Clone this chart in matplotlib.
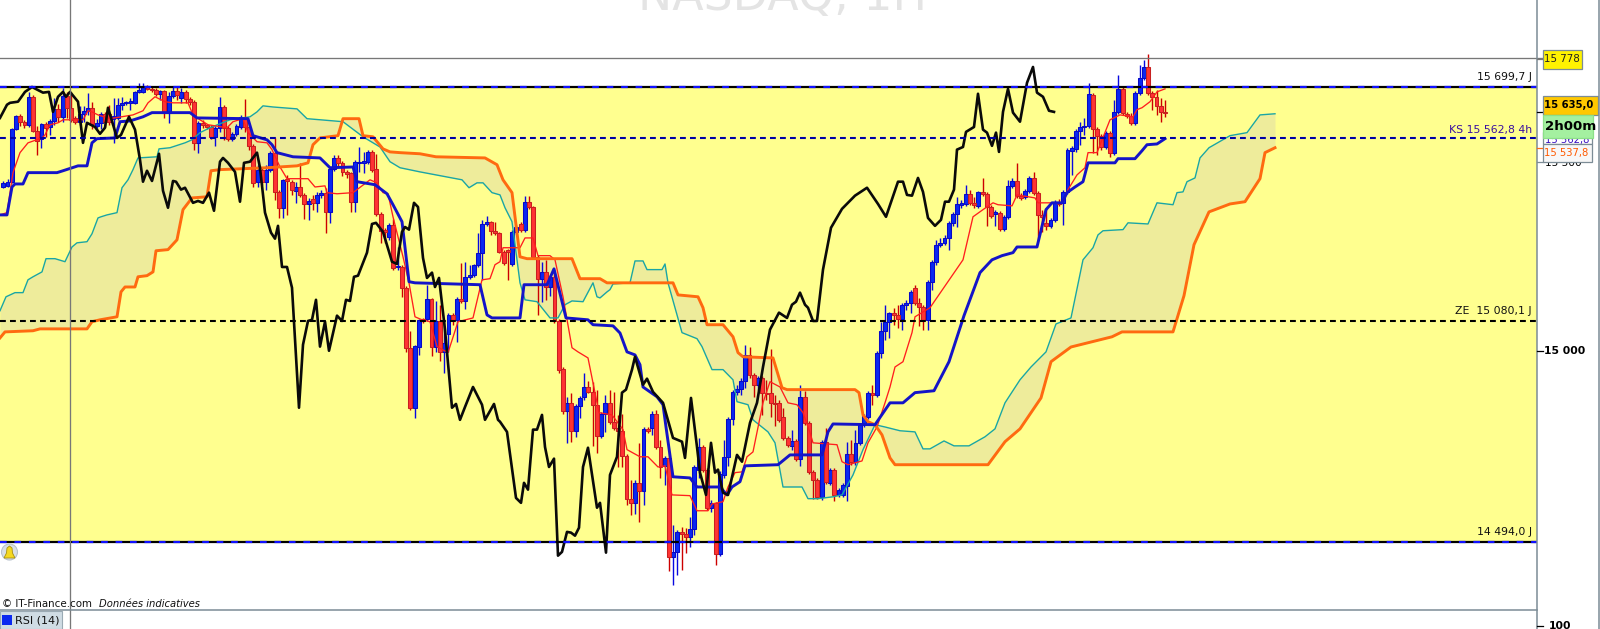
import numpy as np
import matplotlib
matplotlib.use("Agg")
import matplotlib.pyplot as plt
from matplotlib.patches import Rectangle, Circle, Polygon

plt.rcParams['font.family'] = ['DejaVu Sans']

TITLE = "NASDAQ, 1H"
RESISTANCE, KS_LEVEL, ZE_LEVEL, SUPPORT, LAST_HIGH = 15699.7, 15562.8, 15080.1, 14494.0, 15775.0

candle_side = ("BBBBRRBRRB" "RBBRBRRRBB" "BRBBRRBBBB" "BBBBRRRBRB" "BRBRRRBRRR" "BBRRBBBRRR" "BRBBRRBRRB"
               "RRBRBBRBBR" "RRRBBBBRRR" "RBRBRRRBBR" "BRBRBBRBRB" "BBBBBRRRRR" "BBRBRRRBRB" "RRRBRBBBRR"
               "RBBRRRRRRB" "RBRBRRBRBB" "RRBBBRRBRB" "BBBBBBRRBR" "RRRRRRBRBR" "RRRBRBRBBB" "RBBBBRBBBB"
               "RRBBBRRRBB" "BBBBBBBBRR" "BRRRBRBBBR" "RBBRRRRBBR" "BBBBBBBRRR" "BRBBRRRBBB" "RRRRR")

body_top = [
15445,15448,15588,15623,15623,15607,15673,15673,15583,15601,
15601,15609,15641,15641,15676,15676,15644,15617,15628,15636,
15644,15644,15604,15628,15628,15628,15623,15652,15657,15660,
15662,15686,15692,15700,15700,15694,15692,15689,15689,15676,
15689,15689,15686,15686,15668,15660,15604,15604,15599,15593,
15591,15646,15646,15591,15575,15596,15620,15620,15593,15543,
15480,15480,15480,15525,15525,15421,15453,15456,15448,15434,
15434,15413,15397,15403,15413,15419,15419,15482,15511,15511,
15498,15474,15471,15501,15501,15503,15527,15527,15482,15363,
15321,15334,15334,15225,15222,15167,15008,15013,15082,15085,
15138,15138,15079,15079,15021,15095,15095,15138,15138,15196,
15201,15228,15260,15336,15342,15342,15318,15313,15262,15268,
15315,15328,15336,15395,15395,15381,15249,15209,15209,15196,
15196,15079,14952,14862,14862,14854,14875,14904,14904,14891,
14857,14833,14862,14862,14812,14796,14788,14722,14608,14650,
14650,14793,14793,14833,14833,14745,14716,14716,14467,14520,
14520,14515,14528,14692,14745,14745,14685,14597,14597,14674,
14719,14820,14891,14899,14920,14989,14989,14936,14928,14928,
14889,14889,14862,14862,14825,14769,14761,14761,14878,14878,
14809,14679,14658,14759,14759,14685,14685,14631,14645,14727,
14727,14756,14804,14828,14889,14889,14995,15053,15077,15101,
15101,15095,15122,15127,15156,15167,15127,15117,15183,15236,
15281,15286,15299,15339,15363,15389,15392,15416,15416,15392,
15421,15421,15416,15381,15368,15366,15355,15437,15450,15450,
15411,15424,15458,15458,15419,15360,15339,15347,15395,15395,
15421,15533,15538,15583,15593,15596,15681,15678,15588,15570,
15578,15578,15633,15694,15694,15628,15623,15684,15723,15752,
15752,15684,15673,15649,15633]

body_bottom = [
15434,15437,15448,15588,15607,15599,15599,15583,15556,15562,
15591,15593,15609,15620,15620,15644,15612,15607,15607,15628,
15636,15601,15596,15604,15607,15607,15615,15617,15652,15657,
15657,15657,15686,15686,15694,15692,15681,15681,15631,15631,
15676,15678,15670,15668,15660,15551,15551,15599,15593,15567,
15567,15591,15591,15562,15562,15575,15593,15593,15543,15445,
15448,15448,15448,15480,15421,15379,15379,15450,15427,15424,
15413,15389,15389,15392,15392,15413,15368,15368,15482,15498,
15474,15469,15395,15395,15498,15498,15501,15480,15363,15318,
15315,15302,15220,15222,15167,15008,14849,14849,15011,15079,
15085,15011,15011,14997,14997,15045,15082,15082,15132,15132,
15196,15201,15228,15260,15336,15318,15313,15262,15233,15262,
15230,15315,15321,15321,15381,15249,15191,15191,15169,15169,
15079,14950,14841,14841,14788,14788,14854,14878,14891,14857,
14775,14775,14833,14812,14796,14788,14722,14608,14597,14597,
14629,14629,14788,14796,14745,14692,14695,14454,14454,14467,
14515,14507,14507,14528,14685,14685,14584,14584,14462,14462,
14671,14719,14820,14891,14899,14920,14936,14910,14910,14889,
14886,14862,14859,14817,14769,14751,14748,14714,14714,14809,
14679,14658,14613,14613,14653,14650,14618,14618,14618,14642,
14706,14706,14756,14804,14825,14883,14883,14995,15053,15077,
15095,15085,15085,15122,15127,15127,15117,15082,15082,15183,
15236,15281,15286,15299,15339,15363,15387,15389,15392,15387,
15384,15416,15381,15358,15363,15323,15323,15355,15437,15411,
15405,15408,15424,15419,15360,15355,15331,15331,15347,15389,
15392,15421,15530,15535,15583,15593,15596,15588,15570,15541,
15541,15525,15525,15633,15631,15623,15604,15604,15684,15723,
15684,15673,15649,15633,15631]

wick_high = [
15450,15456,15591,15625,15628,15612,15686,15678,15596,15604,
15607,15615,15670,15654,15697,15686,15686,15623,15649,15649,
15684,15660,15615,15633,15633,15652,15670,15670,15673,15662,
15670,15689,15710,15710,15705,15700,15697,15692,15692,15686,
15699,15699,15697,15692,15673,15665,15609,15612,15601,15599,
15596,15673,15652,15596,15580,15601,15625,15668,15601,15548,
15493,15485,15493,15530,15564,15427,15456,15466,15453,15448,
15498,15419,15405,15413,15421,15427,15432,15487,15519,15519,
15503,15480,15474,15506,15541,15527,15533,15533,15522,15368,
15326,15339,15350,15275,15228,15172,15053,15016,15085,15087,
15175,15140,15132,15122,15079,15101,15101,15143,15233,15236,
15228,15230,15313,15347,15358,15344,15342,15315,15268,15270,
15321,15334,15342,15411,15411,15384,15254,15236,15241,15201,
15215,15085,14957,14878,14888,14860,14881,14942,14920,14918,
14897,14838,14883,14897,14891,14830,14833,14727,14658,14658,
14756,14798,14798,14841,14844,14764,14722,14732,14539,14526,
14534,14531,14560,14698,14769,14751,14690,14605,14600,14682,
14764,14825,14897,14910,14928,15016,15011,14942,14934,14934,
14923,15005,14883,14870,14849,14774,14791,14767,14910,14894,
14814,14685,14663,14764,14796,14690,14690,14637,14650,14759,
14764,14791,14809,14833,14894,14910,15000,15077,15122,15103,
15114,15122,15127,15135,15162,15175,15140,15122,15188,15241,
15294,15299,15307,15344,15368,15408,15400,15440,15427,15408,
15424,15458,15421,15387,15374,15371,15360,15453,15458,15498,
15419,15429,15464,15474,15424,15374,15379,15352,15400,15403,
15427,15538,15543,15588,15607,15617,15710,15684,15593,15575,
15583,15583,15665,15731,15699,15633,15631,15689,15758,15771,
15787,15689,15692,15670,15665]

wick_low = [
15432,15434,15445,15585,15596,15591,15593,15580,15519,15538,
15567,15572,15599,15607,15607,15617,15607,15601,15599,15607,
15625,15588,15591,15588,15593,15599,15551,15612,15639,15652,
15639,15654,15684,15684,15692,15686,15676,15665,15617,15604,
15670,15665,15657,15657,15652,15533,15525,15591,15588,15562,
15543,15580,15559,15556,15556,15569,15588,15580,15533,15434,
15434,15440,15427,15474,15400,15352,15352,15360,15413,15392,
15408,15350,15347,15374,15368,15405,15312,15339,15477,15487,
15464,15458,15368,15368,15474,15471,15495,15474,15358,15286,
15286,15294,15215,15214,15143,14997,14844,14822,14989,15074,
15079,14987,14997,14973,14941,14997,15069,15024,15127,15111,
15191,15196,15222,15188,15331,15307,15307,15260,15228,15188,
15225,15310,15315,15315,15376,15244,15095,15130,15135,15146,
15074,14942,14833,14756,14759,14772,14822,14870,14889,14748,
14730,14769,14785,14806,14791,14692,14692,14592,14565,14568,
14547,14592,14783,14777,14740,14663,14645,14417,14380,14406,
14420,14465,14480,14512,14663,14679,14579,14573,14433,14457,
14663,14695,14804,14883,14883,14902,14928,14878,14897,14830,
14870,14825,14801,14812,14764,14745,14738,14708,14695,14804,
14674,14608,14608,14605,14648,14645,14602,14613,14613,14602,
14698,14698,14751,14799,14820,14857,14878,14981,15029,15034,
15069,15061,15056,15109,15101,15122,15066,15056,15056,15162,
15228,15275,15281,15268,15331,15328,15379,15384,15387,15379,
15379,15411,15331,15352,15331,15318,15318,15350,15432,15405,
15400,15403,15419,15413,15294,15315,15321,15326,15342,15384,
15334,15416,15466,15527,15546,15572,15591,15525,15519,15533,
15535,15514,15519,15628,15625,15617,15599,15599,15678,15718,
15678,15639,15625,15607,15620]

# time axis positions of the indicator readings
tenkan_t = [0,7,13,20,28,42,45,50,58,63,83,88,92,98,110,133,143,148,155,165,173,188,193,200,208,227,233,243,248,257,267,272,280,287,308,315,325,327,337,353,370,377,383,388,393,403,409,415,422,430,437,448,458,473,482,490,495,500,503,520,525,533,538,550,555,563,572,578,588,593,599,612,623,627,640,648,658,665,672,690,697,708,712,723,728,735,742,747,753,763,770,780,788,797,803,810,813,837,842,848,862,868,877,885,890,895,903,912,915,930,963,973,983,993,998,1012,1017,1035,1038,1062,1068,1077,1085,1088,1097,1110,1120,1133,1137,1142,1150,1157,1165]
tenkan = [15360,15366,15472,15525,15551,15564,15572,15599,15604,15612,15612,15636,15633,15625,15615,15625,15636,15657,15673,15660,15657,15657,15625,15612,15599,15591,15607,15615,15578,15554,15551,15533,15487,15456,15456,15434,15437,15419,15416,15419,15453,15445,15419,15416,15355,15249,15180,15090,15082,15077,15011,14995,15077,15087,15188,15191,15228,15236,15273,15273,15299,15299,15252,15252,15241,15143,15008,14997,14981,14915,14836,14830,14791,14738,14719,14719,14692,14695,14618,14616,14576,14576,14594,14600,14639,14677,14679,14719,14732,14862,14918,14904,14862,14857,14836,14783,14756,14751,14706,14698,14708,14756,14798,14862,14904,14957,14971,15048,15090,15114,15241,15355,15374,15392,15387,15384,15413,15405,15392,15392,15427,15466,15485,15525,15525,15612,15625,15620,15639,15644,15660,15686,15694]

kijun_t = [0,7,12,15,23,28,57,63,78,87,92,97,115,120,130,143,152,190,197,248,253,267,272,277,293,320,330,353,357,375,387,393,402,409,415,480,487,492,520,524,547,554,566,588,593,613,620,627,635,640,643,657,663,666,673,690,697,720,727,732,740,745,778,790,822,828,833,875,890,903,915,934,949,964,980,992,1002,1013,1017,1037,1046,1052,1062,1067,1075,1083,1088,1115,1118,1135,1142,1147,1157,1165]
kijun = [15360,15360,15434,15442,15442,15472,15472,15477,15490,15490,15551,15562,15564,15607,15609,15620,15631,15631,15617,15615,15570,15559,15546,15525,15514,15511,15485,15487,15448,15440,15416,15387,15342,15183,15180,15175,15095,15087,15087,15175,15175,15217,15087,15082,15069,15066,15047,14997,14989,14963,14904,14878,14857,14798,14666,14663,14639,14639,14618,14639,14653,14695,14698,14724,14724,14785,14806,14804,14862,14862,14889,14894,14971,15093,15207,15241,15252,15260,15275,15275,15374,15392,15392,15419,15434,15448,15498,15498,15509,15509,15530,15546,15548,15562]

chikou_t = [0,7,10,18,25,32,43,49,53,58,63,66,70,78,83,87,95,100,105,108,117,121,129,135,140,143,147,152,159,163,168,173,176,181,185,193,198,203,209,214,220,223,228,235,240,244,250,257,260,265,271,275,278,282,287,292,299,303,308,312,316,320,325,329,337,342,346,350,354,358,367,372,376,383,392,397,402,405,409,414,418,423,427,432,435,439,445,452,456,460,465,473,482,485,494,498,500,507,516,521,524,528,533,537,542,545,549,554,558,562,567,571,575,579,583,588,597,600,606,610,617,622,626,632,635,643,647,653,663,673,682,685,691,697,700,706,711,715,718,723,728,737,742,750,757,763,770,779,787,792,796,800,805,808,813,817,823,831,842,855,867,878,886,898,903,907,912,918,923,928,935,941,945,949,954,957,963,966,974,978,983,987,992,996,999,1003,1008,1013,1020,1027,1033,1037,1043,1049,1054]
chikou = [15617,15652,15657,15660,15686,15699,15684,15686,15633,15673,15686,15673,15686,15660,15551,15604,15593,15575,15591,15644,15564,15572,15620,15586,15506,15448,15477,15450,15522,15424,15379,15450,15448,15427,15432,15392,15397,15392,15419,15371,15501,15511,15498,15474,15395,15498,15501,15525,15485,15366,15313,15297,15331,15222,15222,15167,14849,15016,15079,15082,15135,15011,15077,15000,15093,15079,15135,15132,15196,15199,15260,15336,15339,15315,15236,15230,15315,15328,15321,15392,15381,15246,15193,15207,15169,15193,15056,14849,14859,14817,14851,14904,14857,14817,14859,14817,14812,14785,14610,14597,14650,14632,14791,14791,14830,14745,14692,14714,14457,14467,14520,14518,14510,14531,14692,14743,14584,14597,14465,14671,14719,14889,14897,14950,14984,14910,14926,14891,14862,14769,14759,14716,14875,14745,14677,14618,14756,14677,14685,14624,14618,14724,14706,14809,14862,14957,15056,15101,15087,15122,15130,15154,15122,15114,15079,15079,15215,15326,15376,15411,15432,15389,15355,15448,15448,15413,15411,15458,15421,15352,15331,15347,15395,15395,15427,15533,15540,15580,15593,15681,15586,15578,15543,15578,15527,15633,15694,15631,15607,15710,15752,15684,15673,15636,15633]

span_a_t = [0,6,15,23,28,33,42,46,55,65,72,77,87,92,98,101,107,117,122,128,133,138,157,159,170,185,192,200,210,230,250,257,263,273,297,307,343,363,380,390,400,420,440,462,469,477,483,492,500,505,512,520,525,537,550,558,565,572,583,593,597,600,607,610,613,630,635,643,647,662,665,668,682,697,702,712,723,733,737,748,753,768,775,783,802,808,818,833,842,853,863,875,885,900,915,923,930,944,954,969,985,995,1005,1020,1031,1046,1056,1071,1083,1093,1098,1103,1123,1128,1148,1157,1173,1177,1183,1187,1195,1200,1209,1230,1247,1260,1275]
span_a = [15106,15143,15154,15154,15188,15196,15209,15244,15244,15236,15275,15286,15289,15310,15352,15355,15360,15366,15432,15453,15480,15511,15514,15535,15538,15551,15559,15578,15591,15612,15620,15633,15649,15646,15641,15615,15607,15567,15540,15501,15485,15474,15464,15453,15432,15445,15445,15419,15413,15379,15342,15180,15135,15130,15087,15087,15122,15132,15130,15180,15143,15140,15156,15162,15177,15180,15238,15238,15215,15215,15230,15180,15048,15032,15011,14950,14950,14923,14865,14857,14817,14785,14756,14639,14639,14608,14608,14613,14618,14671,14738,14804,14798,14788,14785,14740,14740,14761,14748,14748,14772,14793,14862,14923,14957,14997,15071,15087,15241,15273,15307,15318,15321,15339,15336,15392,15387,15419,15421,15448,15458,15511,15538,15570,15578,15625,15628]

span_b_t = [0,5,33,40,87,92,100,117,121,125,135,138,147,153,156,168,177,183,192,207,211,220,267,297,308,313,320,338,343,359,363,373,383,390,400,420,436,485,497,503,512,520,527,572,580,600,607,673,678,698,703,707,723,733,738,743,773,782,787,855,859,863,868,875,882,890,895,988,1005,1020,1041,1051,1071,1112,1122,1173,1184,1194,1209,1230,1245,1260,1265,1275]
span_b = [15034,15050,15053,15058,15058,15077,15082,15090,15156,15169,15169,15196,15199,15209,15265,15268,15294,15374,15405,15408,15477,15480,15485,15490,15498,15546,15564,15570,15615,15615,15570,15567,15535,15527,15525,15522,15514,15511,15493,15453,15419,15249,15244,15244,15191,15191,15180,15180,15148,15143,15114,15069,15069,15037,14995,14984,14981,14902,14897,14897,14889,14830,14812,14804,14777,14716,14698,14698,14759,14793,14875,14971,15010,15037,15050,15050,15146,15281,15368,15389,15395,15456,15525,15538]

W, H = 1600, 629
fig = plt.figure(figsize=(W / 100, H / 100), dpi=100, facecolor="white")
ax = fig.add_axes([0, 0, 1, 1])
ax.set_xlim(0, W)
ax.set_ylim(14262.65, 15929.5)
ax.axis("off")
PANE_R = 1537

ax.add_patch(Rectangle((0, SUPPORT), PANE_R, RESISTANCE - SUPPORT, fc="#FFFF8F", ec="none", zorder=0))

grid = np.arange(0, 1276)
a_i = np.interp(grid, span_a_t, span_a)
b_i = np.interp(grid, span_b_t, span_b)
ax.fill_between(grid, a_i, b_i, color="#EEEC9B", lw=0, zorder=1)

n = len(candle_side)
step = (1165 - 3.3) / (n - 1)
xs = 3.3 + step * np.arange(n)
up = np.array([c == "B" for c in candle_side])
top = np.array(body_top, float)
bot = np.array(body_bottom, float)
ax.vlines(xs[up], np.array(wick_low)[up], np.array(wick_high)[up], color="#0808E0", lw=1.0, zorder=2)
ax.vlines(xs[~up], np.array(wick_low)[~up], np.array(wick_high)[~up], color="#CC0000", lw=1.0, zorder=2)
ax.bar(xs[up], top[up] - bot[up], bottom=bot[up], width=3.9, color="#0A28F0", edgecolor="#0808C8", lw=0.75, zorder=3)
ax.bar(xs[~up], top[~up] - bot[~up], bottom=bot[~up], width=3.9, color="#FF3333", edgecolor="#C82020", lw=0.75, zorder=3)

ax.plot(span_a_t, span_a, color="#1AA5A5", lw=1.0, zorder=4)
ax.plot(tenkan_t, tenkan, color="#FF1E1E", lw=0.95, zorder=5)
ax.plot(span_b_t, span_b, color="#FF6A10", lw=2.1, zorder=6, solid_joinstyle="round")
ax.plot(kijun_t, kijun, color="#1414C8", lw=2.1, zorder=6, solid_joinstyle="round")
ax.plot(chikou_t, chikou, color="#0A0A0A", lw=1.9, zorder=7, solid_joinstyle="round")

# horizontal levels
ax.plot([0, PANE_R + 6], [LAST_HIGH] * 2, color="#777777", lw=0.95, zorder=8)
for lvl in (RESISTANCE, SUPPORT):
    ax.plot([0, PANE_R], [lvl] * 2, color="black", lw=1.6, zorder=9, solid_capstyle="butt")
    ax.plot([0, PANE_R], [lvl] * 2, color="#1010FF", lw=1.6, ls=(0, (3, 3.5)), zorder=10)
ax.plot([0, PANE_R], [KS_LEVEL] * 2, color="#0000A8", lw=1.5, ls=(0, (2.8, 2)), zorder=9)
ax.plot([0, PANE_R], [ZE_LEVEL] * 2, color="black", lw=1.5, ls=(0, (2.8, 2)), zorder=9)

# chrome overlay in screen units
ui = fig.add_axes([0, 0, 1, 1], facecolor="none")
ui.set_xlim(0, W)
ui.set_ylim(H, 0)
ui.axis("off")
ui.text(782, 10, TITLE, fontsize=33, color="#E4E4E4", ha="center", va="baseline", zorder=1)

ui.plot([70, 70], [0, H], color="#777777", lw=0.95, zorder=12)
ui.plot([PANE_R, PANE_R], [0, H], color="#7C8C96", lw=1.1, zorder=12)
ui.plot([1599, 1599], [0, H], color="#7C8C96", lw=1.1, zorder=12)
ui.plot([0, PANE_R], [610, 610], color="#7C8C96", lw=1.1, zorder=12)

LBL = dict(fontsize=7.8, ha="right", va="center", zorder=13)
ui.text(1532, 77.5, "15 699,7 J", color="#111111", **LBL)
ui.text(1532, 129.5, "KS 15 562,8 4h", color="#3A10A0", **LBL)
ui.text(1532, 311, "ZE  15 080,1 J", color="#111111", **LBL)
ui.text(1532, 532, "14 494,0 J", color="#111111", **LBL)

ui.plot([PANE_R, 1543], [58.5, 58.5], color="#777777", lw=0.9, zorder=14)
ui.plot([PANE_R, 1543], [112, 112], color="black", lw=0.9, zorder=14)
ui.plot([PANE_R, 1543], [148, 148], color="#FF6A10", lw=0.9, zorder=14)
ui.plot([PANE_R, 1543], [162, 162], color="#7C8C96", lw=0.9, zorder=14)
ui.plot([PANE_R, 1543], [351, 351], color="black", lw=0.9, zorder=14)
ui.plot([PANE_R, 1543], [626, 626], color="black", lw=0.9, zorder=14)

AX = dict(ha="left", va="center", zorder=15)
ui.text(1545, 163, "15 500", fontsize=7.6, color="black", **AX)
ui.text(1544, 351.5, "15 000", fontsize=7.8, color="black", fontweight="bold", **AX)
ui.text(1549, 626, "100", fontsize=7.8, color="black", fontweight="bold", **AX)

ui.add_patch(Rectangle((1543, 49.5), 38.5, 19, fc="#FFF200", ec="#7C8C96", lw=0.9, zorder=15))
ui.text(1544.5, 59, "15 778", fontsize=7.4, color="#222222", **{**AX, "zorder": 16})

ui.add_patch(Rectangle((1543, 132), 48.5, 12, fc="white", ec="#7C8C96", lw=0.9, zorder=15))
ui.text(1545, 140, "15 562,8", fontsize=7.2, color="#3A10C0", **{**AX, "zorder": 16})
ui.add_patch(Rectangle((1543, 143.5), 48.5, 18, fc="#F7F7F7", ec="#7C8C96", lw=0.9, zorder=17))
ui.text(1544.5, 153, "15 537,8", fontsize=7.2, color="#FF5A00", **{**AX, "zorder": 18})

ui.add_patch(Rectangle((1543, 96), 55, 18.5, fc="#FFC800", ec="#7C8C96", lw=0.9, zorder=19))
ui.text(1544.5, 105.5, "15 635,0", fontsize=7.2, color="black", fontweight="bold", **{**AX, "zorder": 20})
ui.add_patch(Rectangle((1543, 114.5), 50, 23, fc="#A4F0A0", ec="#8CE088", lw=0.9, zorder=21))
ui.text(1544.5, 126.5, "2h00m", fontsize=9.6, color="black", fontweight="bold", **{**AX, "zorder": 22})

# bell
ui.add_patch(Circle((9.5, 552), 8, fc="#D8DFE6", ec="#B8C2CC", lw=0.8, zorder=15))
ui.add_patch(Polygon([(4, 558), (6.5, 553), (7, 548), (9.5, 546), (12, 548), (12.5, 553), (15, 558)],
                     closed=True, fc="#F5D820", ec="#A89010", lw=0.6, zorder=16))

ui.text(2, 604, "© IT-Finance.com", fontsize=7.4, color="#111111", ha="left", va="center", zorder=15)
ui.text(99, 604, "Données indicatives", fontsize=7.2, style="italic", color="#111111", ha="left", va="center", zorder=15)

ui.add_patch(Rectangle((0, 611), 62, 18, fc="#CFDCE4", ec="#9AAAB4", lw=0.8, zorder=15))
ui.add_patch(Rectangle((2, 615), 10, 10, fc="#0A28F0", ec="none", zorder=16))
ui.text(15, 620.5, "RSI (14)", fontsize=8, color="#111111", ha="left", va="center", zorder=16)

fig.savefig("out.png", dpi=100)
